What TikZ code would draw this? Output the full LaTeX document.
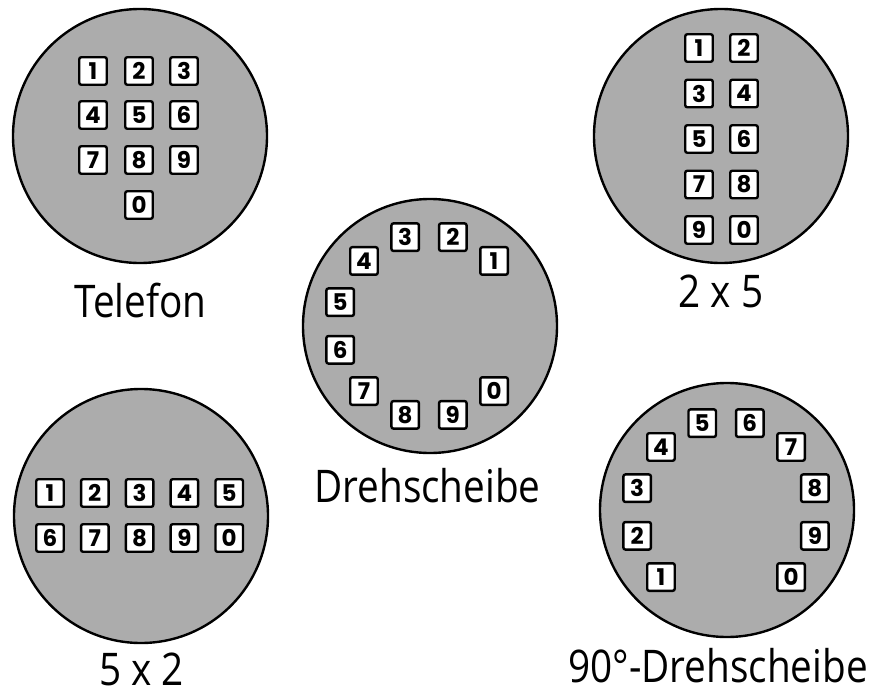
\documentclass[tikz,border=0pt]{standalone}
\usepackage{fontspec}
\setmainfont{Open Sans}
\newfontfamily\keyfont{Poppins}
\begin{document}
\begin{tikzpicture}[x=1pt,y=-1pt,
  dial/.style={circle, draw=black, line width=2.4pt,
    fill={rgb,255:red,172;green,172;blue,172}, minimum size=254pt, inner sep=0pt},
  key/.style={draw=black, line width=2.4pt, fill=white, rounded corners=2pt,
    minimum size=27.5pt, inner sep=0pt, font=\keyfont\bfseries\fontsize{23}{23}\selectfont},
  caption/.style={anchor=base, inner sep=0pt, xscale=0.86,
    font=\fontsize{45}{45}\selectfont}]
\useasboundingbox (0,0) rectangle (877,693);

% ---- Telefon: 3x3 block with 0 below ----
\node[dial] (tel) at (140,136) {};
\foreach \d/\x/\y in {1/93/71,2/139/71,3/184/71,4/93/115,5/139/115,6/184/115,
                      7/93/160,8/139/160,9/184/160,0/139/205}
  \node[key] (t\d) at (\x,\y) {\d};
\node[caption] (tellabel) at (140.5,317) {Telefon};

% ---- 2 x 5: two columns, five rows ----
\node[dial] (two) at (721,136) {};
\foreach \a/\b [count=\r from 0] in {1/2,3/4,5/6,7/8,9/0}{
  \node[key] (z\a) at (699,48+45.5*\r) {\a};
  \node[key] (z\b) at (744,48+45.5*\r) {\b};
}
\node[caption] (twolabel) at (721,307) {2 x 5};

% ---- Drehscheibe: keys on a ring, counter-clockwise from upper right ----
\node[dial] (dreh) at (430,326) {};
\coordinate (dc) at (429,326);
\foreach \d [count=\i from 0] in {1,2,3,4,5,6,7,8,9,0}
  \node[key] (d\d) at ([shift={(-45-30*\i:92)}]dc) {\d};
\node[caption] (drehlabel) at (427.5,502) {Drehscheibe};

% ---- 5 x 2: five columns, two rows ----
\node[dial] (five) at (141,516) {};
\foreach \a/\b [count=\c from 0] in {1/6,2/7,3/8,4/9,5/0}{
  \node[key] (f\a) at (50+44.8*\c,493) {\a};
  \node[key] (f\b) at (50+44.8*\c,538) {\b};
}
\node[caption] (fivelabel) at (141.5,685) {5 x 2};

% ---- 90-degree Drehscheibe: ring turned by a quarter, clockwise from lower left ----
\node[dial] (ninety) at (727,510) {};
\coordinate (nc) at (726,512);
\foreach \d [count=\i from 0] in {1,2,3,4,5,6,7,8,9,0}
  \node[key] (n\d) at ([shift={(-225+30*\i:92)}]nc) {\d};
\node[caption] (ninetylabel) at (718,682) {90°-Drehscheibe};
\end{tikzpicture}
\end{document}
